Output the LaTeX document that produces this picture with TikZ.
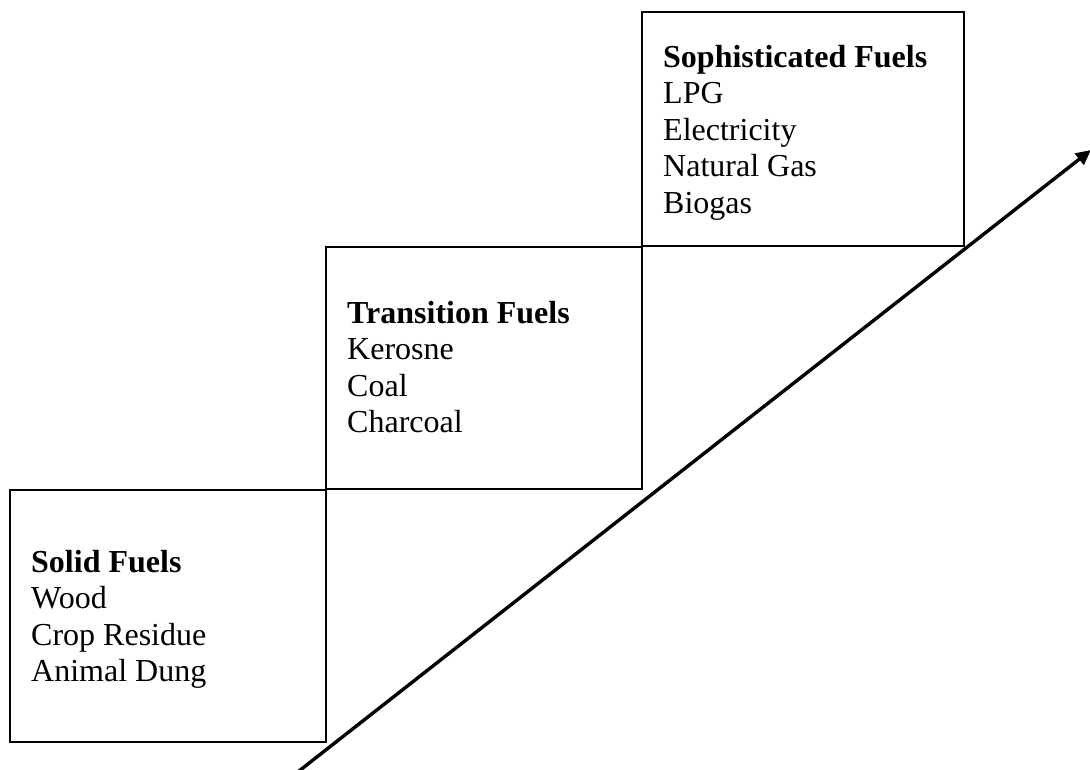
\documentclass[tikz,border=0pt]{standalone}
\usepackage{fontspec}
\setmainfont{Liberation Serif}
\usetikzlibrary{arrows.meta}
\begin{document}
\begin{tikzpicture}[x=1pt,y=-1pt,
  stage/.style={draw=black,line width=2.2pt},
  fueltext/.style={anchor=north west,inner sep=0pt,align=left,font=\fontsize{32}{36.5}\selectfont},
  ladder/.style={line width=3.4pt,-{Triangle[length=15pt,width=14pt]}}]
\useasboundingbox (0,0) rectangle (1090,770);
\draw[stage] (10,490) rectangle (326,742);
\draw[stage] (326,247) rectangle (642,489);
\draw[stage] (642,12) rectangle (964,246);
\node[fueltext] (solid) at (31,550) {\textbf{Solid Fuels}\\Wood\\Crop Residue\\Animal Dung};
\node[fueltext] (trans) at (347,301) {\textbf{Transition Fuels}\\Kerosne\\Coal\\Charcoal};
\node[fueltext] (soph) at (663,45) {\textbf{Sophisticated Fuels}\\LPG\\Electricity\\Natural Gas\\Biogas};
\coordinate (arrowstart) at (299,771);
\coordinate (arrowend) at (1091,150);
\draw[ladder] (arrowstart) -- (arrowend);
\end{tikzpicture}
\end{document}
